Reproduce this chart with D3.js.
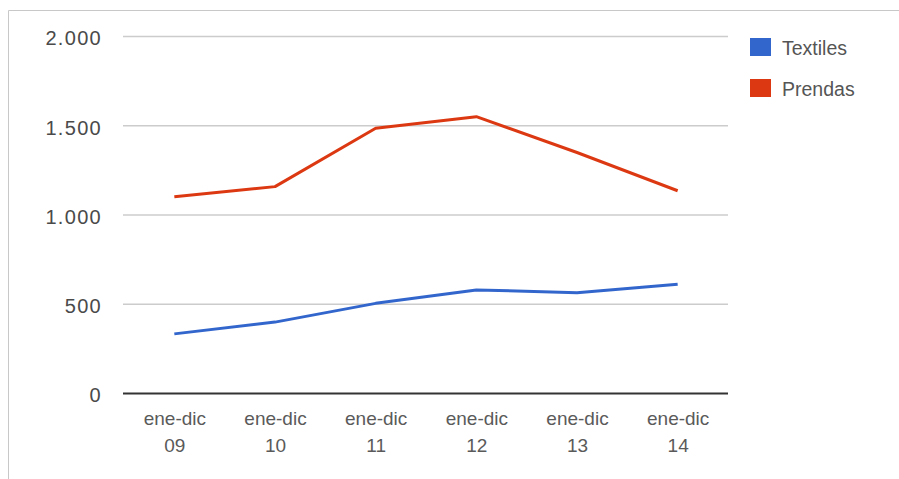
<!DOCTYPE html>
<html>
<head>
<meta charset="utf-8">
<script src="https://cdn.jsdelivr.net/npm/d3@7"></script>
<style>
  html, body { margin: 0; padding: 0; background: #fff; }
  svg { display: block; font-family: Arial, "Liberation Sans", sans-serif; }
</style>
</head>
<body>
<svg id="chart" width="899" height="479"></svg>
<script>
// Years shown on the category axis (two-line labels)
const periods = ["ene-dic|09", "ene-dic|10", "ene-dic|11", "ene-dic|12", "ene-dic|13", "ene-dic|14"];
const textiles = [334, 400, 505, 580, 565, 612];
const prendas = [1102, 1159, 1486, 1551, 1350, 1136];
const yTicks = [0, 500, 1000, 1500, 2000];
const seriesNames = ["Textiles", "Prendas"];
const seriesColors = ["#3366cc", "#dc3912"];

const svg = d3.select("#chart");
const W = 899, H = 479;

// frame: top and left edges
svg.append("line")
  .attr("x1", 8.5).attr("x2", W).attr("y1", 10.5).attr("y2", 10.5)
  .attr("stroke", "#c8c8c8").attr("stroke-width", 1);
svg.append("line")
  .attr("x1", 8.5).attr("x2", 8.5).attr("y1", 10.5).attr("y2", H)
  .attr("stroke", "#c8c8c8").attr("stroke-width", 1);

const plot = { left: 124, right: 728, top: 36.5, bottom: 393.5 };

const x = d3.scalePoint().domain(periods).range([plot.left, plot.right]).padding(0.5);
const y = d3.scaleLinear().domain([0, 2000]).range([plot.bottom, plot.top]);

const fmt = v => d3.format(",")(v).replace(/,/g, ".");

// horizontal gridlines
svg.append("g").selectAll("line")
  .data(yTicks.filter(t => t > 0))
  .join("line")
  .attr("x1", plot.left - 1).attr("x2", plot.right)
  .attr("y1", d => y(d)).attr("y2", d => y(d))
  .attr("stroke", "#cccccc").attr("stroke-width", 1.5);

// y axis labels
const yAxis = d3.axisLeft(y).tickValues(yTicks).tickFormat(fmt).tickSize(0).tickPadding(0);
const gy = svg.append("g").attr("transform", `translate(${plot.left - 22},0)`).call(yAxis);
gy.select(".domain").remove();
gy.selectAll("text")
  .attr("font-size", 20)
  .attr("font-family", "Arial, 'Liberation Sans', sans-serif")
  .attr("fill", "#4a4a4a")
  .attr("letter-spacing", "1.3px")
  .attr("dy", "0.42em");

// series lines
const line = d3.line().x((d, i) => x(periods[i])).y(d => y(d));
[textiles, prendas].forEach((vals, k) => {
  svg.append("path")
    .datum(vals)
    .attr("d", line)
    .attr("fill", "none")
    .attr("stroke", seriesColors[k])
    .attr("stroke-width", 3)
    .attr("stroke-linejoin", "round");
});

// zero baseline
svg.append("line")
  .attr("x1", plot.left - 1).attr("x2", plot.right)
  .attr("y1", y(0)).attr("y2", y(0))
  .attr("stroke", "#333").attr("stroke-width", 2);

// x axis labels (two lines each)
const xAxis = d3.axisBottom(x).tickSize(0).tickFormat("");
const gx = svg.append("g").attr("transform", `translate(0,${plot.bottom})`).call(xAxis);
gx.select(".domain").remove();
gx.selectAll(".tick").each(function(d) {
  const parts = d.split("|");
  const t = d3.select(this).append("text")
    .attr("text-anchor", "middle")
    .attr("font-size", 19)
    .attr("fill", "#5a5a5a");
  t.append("tspan").attr("x", 0).attr("y", 31).text(parts[0]);
  t.append("tspan").attr("x", 0).attr("y", 58).text(parts[1]);
});

// legend
const legend = svg.append("g");
seriesNames.forEach((name, k) => {
  const gy0 = 38 + k * 41;
  legend.append("rect")
    .attr("x", 750).attr("y", gy0)
    .attr("width", 21).attr("height", 18)
    .attr("fill", seriesColors[k]);
  legend.append("text")
    .attr("x", 782).attr("y", gy0 + 17)
    .attr("font-size", 19.5)
    .attr("fill", "#555")
    .text(name);
});
</script>
</body>
</html>
